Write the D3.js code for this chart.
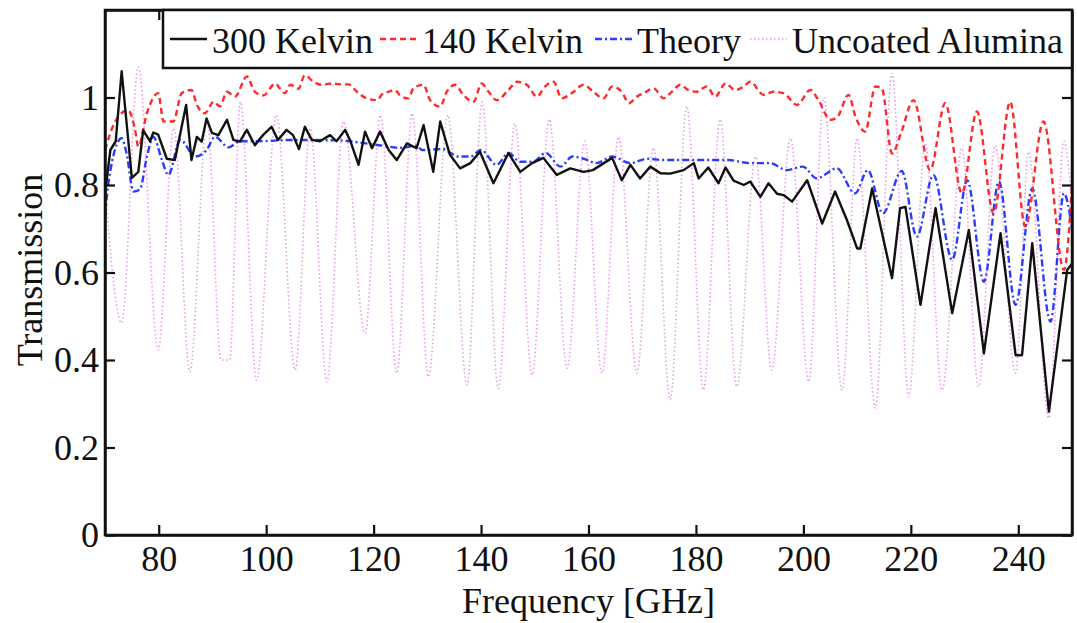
<!DOCTYPE html>
<html>
<head>
<meta charset="utf-8">
<script src="https://cdn.jsdelivr.net/npm/d3@7"></script>
<style>
  body { margin: 0; background: #fff; }
  text { font-family: "Liberation Serif", "Times New Roman", serif; fill: #111; }
</style>
</head>
<body>
<script>
// [frequency GHz, transmission]
var kelvin300 = [[70,0.78],[71,0.88],[72,0.90],[73.1,1.06],[75.0,0.816],[76.2,0.83],[77.1,0.925],[78.4,0.90],[79.0,0.92],[79.9,0.915],
  [81.5,0.86],[83.0,0.857],[85.1,0.983],[86.1,0.857],[87.1,0.91],[88.0,0.899],[88.9,0.952],[89.9,0.919],[91.1,0.914],[92.7,0.949],
  [93.9,0.903],[95.1,0.899],[96.4,0.926],[97.9,0.891],[99.4,0.914],[101.0,0.933],[102.2,0.903],[103.8,0.926],[105.0,0.914],[106.1,0.882],
  [107.2,0.933],[108.5,0.903],[110.0,0.90],[111.9,0.914],[113.1,0.90],[114.7,0.926],[115.6,0.903],[117.2,0.846],[118.4,0.922],[119.7,0.884],
  [121.2,0.922],[122.8,0.88],[124.3,0.857],[126.2,0.895],[128.0,0.884],[129.3,0.937],[131.1,0.83],[132.4,0.945],[134.2,0.869],[136.1,0.838],
  [138.0,0.85],[139.8,0.876],[142.3,0.804],[145.1,0.873],[147.3,0.83],[149.5,0.85],[151.6,0.862],[154.1,0.823],[156.6,0.838],[159.1,0.83],
  [160.8,0.834],[164.4,0.862],[166.2,0.811],[167.8,0.846],[169.6,0.815],[171.5,0.842],[173.4,0.827],[175.2,0.826],[177.7,0.834],[179.6,0.85],
  [180.5,0.815],[182.3,0.84],[184.2,0.804],[185.5,0.84],[187.0,0.81],[188.9,0.80],[190.1,0.808],[192.0,0.773],[193.5,0.804],[195.1,0.78],
  [196.3,0.777],[197.9,0.762],[200.7,0.811],[203.5,0.712],[205.9,0.785],[208.1,0.72],[210.0,0.655],[210.6,0.655],[212.8,0.792],[216.5,0.587],
  [218.0,0.747],[219.0,0.75],[221.8,0.526],[224.6,0.747],[227.7,0.507],[230.8,0.697],[233.6,0.415],[236.7,0.69],[239.5,0.411],[240.7,0.411],
  [242.6,0.667],[245.7,0.282],[247.5,0.453],[249.1,0.606],[250,0.62]];

var kelvin140 = [[70,0.88],[71.9,0.945],[74.3,0.971],[75.6,0.926],[76.2,0.888],[77.8,0.964],[79.9,1.01],[80.9,0.945],[82.7,0.945],[84.3,1.01],
  [86.1,1.017],[87.1,0.983],[88.6,0.964],[90.2,0.99],[91.4,0.98],[92.7,1.013],[94.2,1.002],[96.4,1.048],[97.9,1.013],[99.5,1.005],
  [101.7,1.032],[102.6,1.02],[103.5,1.01],[104.5,1.029],[106.0,1.02],[107.2,1.051],[108.8,1.036],[110.4,1.029],[112.2,1.032],[113.8,1.03],
  [115.3,1.03],[116.9,1.013],[118.7,0.998],[120.6,0.994],[121.8,1.01],[122.7,1.013],[124.0,1.017],[124.9,1.005],[126.5,0.998],[127.4,1.021],
  [129.3,1.029],[130.5,0.994],[132.4,0.979],[133.6,1.013],[135.2,1.029],[136.7,1.006],[138.6,0.99],[140.1,1.032],[141.4,1.013],[142.9,0.994],
  [145.1,1.017],[146.7,1.036],[148.5,1.029],[150.4,1.002],[151.9,1.025],[153.5,1.036],[155.0,0.998],[156.9,1.01],[159.1,1.029],[160.9,1.013],
  [162.8,0.998],[164.4,1.025],[166.2,1.013],[167.5,0.987],[169.0,1.002],[170.3,1.01],[172.1,1.021],[174.0,0.998],[175.5,1.013],[177.1,1.029],
  [178.6,1.017],[180.1,1.013],[182.0,1.025],[183.6,1.002],[185.5,1.032],[187.3,1.017],[188.9,1.025],[190.1,1.036],[192.6,1.006],[194.4,1.013],
  [196.3,1.01],[198.8,0.983],[201.3,1.017],[202.8,0.994],[205.0,0.949],[206.3,0.955],[208.4,1.006],[209.7,0.956],[211.5,0.922],[213.4,1.025],
  [214.6,1.021],[216.5,0.872],[218.2,0.92],[220.5,0.994],[223.6,0.834],[226.4,0.987],[229.5,0.781],[232.3,0.968],[235.4,0.735],[238.5,0.99],
  [241.3,0.705],[244.7,0.945],[248.5,0.606],[250,0.80]];

var theory = [[70,0.73],[70.7,0.81],[73.1,0.907],[74.0,0.873],[75.3,0.785],[76.5,0.79],[77.8,0.865],[79.0,0.91],[80.6,0.857],[81.8,0.823],
  [84.0,0.903],[86.8,0.865],[88.9,0.88],[90.5,0.91],[93.0,0.886],[95.1,0.90],[98,0.90],[105,0.903],[113,0.902],[121,0.891],
  [125,0.885],[128,0.89],[129,0.88],[132.8,0.882],[135.8,0.865],[138,0.865],[140,0.88],[142.9,0.846],[145.1,0.873],[147.3,0.853],
  [149.7,0.853],[152,0.873],[154.8,0.842],[157,0.865],[159.1,0.86],[161.5,0.85],[164.4,0.865],[167.8,0.85],[170.9,0.86],[174,0.857],
  [180,0.857],[186,0.857],[190.1,0.85],[193.8,0.85],[196.9,0.834],[199.9,0.842],[202.5,0.815],[206.2,0.838],[209.6,0.781],[212,0.834],
  [214.8,0.735],[218.3,0.832],[221.1,0.682],[224.2,0.823],[227.7,0.629],[230.5,0.811],[233.6,0.579],[236.4,0.808],[239.5,0.526],[242.6,0.792],
  [246,0.488],[248.5,0.781],[250,0.70]];

var alumina = [[70,0.80],[73.1,0.485],[76.2,1.07],[79.9,0.423],[82.8,0.93],[85.8,0.373],[89.0,0.95],[91.6,0.40],[93.2,0.40],[95.2,0.99],
  [98.2,0.354],[101.9,0.96],[105.4,0.377],[108.2,0.93],[111.3,0.35],[114.4,0.945],[118.4,0.461],[121.3,0.96],[124.3,0.37],[127.2,0.964],
  [130.2,0.362],[133.8,0.96],[137.4,0.343],[140.2,0.99],[143.2,0.335],[146.3,0.94],[149.5,0.366],[152.7,0.95],[156.0,0.381],[159.3,0.90],
  [162.5,0.37],[165.6,0.91],[169.0,0.37],[172.1,0.885],[175.2,0.309],[178.3,0.98],[181.4,0.331],[184.5,0.95],[187.6,0.339],[191.1,0.865],
  [194.1,0.377],[197.6,0.907],[201.0,0.35],[203.8,1.0],[207.2,0.331],[210.0,0.907],[213.4,0.29],[216.5,1.055],[219.6,0.316],[222.7,0.895],
  [225.8,0.331],[229.5,0.884],[232.6,0.339],[235.7,0.89],[239.5,0.37],[241.9,0.876],[245.7,0.267],[248.5,0.90],[250,0.75]];

var xTicks = [80, 100, 120, 140, 160, 180, 200, 220, 240];
var yTicks = [0, 0.2, 0.4, 0.6, 0.8, 1];
var seriesNames = ["300 Kelvin", "140 Kelvin", "Theory", "Uncoated Alumina"];

var margin = {top: 10, right: 5, bottom: 88, left: 105},
    width = 1077 - margin.left - margin.right,
    height = 623 - margin.top - margin.bottom;

var x = d3.scaleLinear().domain([70, 250]).range([0, width]);
var y = d3.scaleLinear().domain([0, 1.2]).range([height, 0]);

var styles = [
  {color: "#111111", width: 2.4, dash: null, curve: d3.curveLinear},
  {color: "#ff2a2a", width: 2.4, dash: "6,4", curve: d3.curveMonotoneX},
  {color: "#2a3cff", width: 2.4, dash: "7,3,2,3", curve: d3.curveMonotoneX},
  {color: "#e99ceb", width: 1.6, dash: "1.5,2.5", curve: d3.curveMonotoneX}
];
var allSeries = [kelvin300, kelvin140, theory, alumina];

var svg = d3.select("body").append("svg")
    .attr("width", 1077)
    .attr("height", 623)
  .append("g")
    .attr("transform", "translate(" + margin.left + "," + margin.top + ")");

svg.append("clipPath").attr("id", "clip")
  .append("rect").attr("width", width).attr("height", height);

// draw back to front: alumina first
var order = [3, 2, 1, 0];
order.forEach(function(i) {
  var line = d3.line()
      .x(function(d) { return x(d[0]); })
      .y(function(d) { return y(d[1]); })
      .curve(styles[i].curve);
  svg.append("path")
      .datum(allSeries[i])
      .attr("clip-path", "url(#clip)")
      .attr("fill", "none")
      .attr("stroke", styles[i].color)
      .attr("stroke-width", styles[i].width)
      .attr("stroke-dasharray", styles[i].dash)
      .attr("stroke-linejoin", "round")
      .attr("d", line);
});

var fmt = d3.format("~g");

svg.append("g")
    .attr("transform", "translate(0," + height + ")")
    .call(d3.axisBottom(x).tickValues(xTicks).tickSizeInner(-10).tickSizeOuter(0).tickPadding(10));
svg.append("g")
    .call(d3.axisLeft(y).tickValues(yTicks).tickFormat(fmt).tickSizeInner(-10).tickSizeOuter(0).tickPadding(6));
svg.append("g")
    .call(d3.axisTop(x).tickValues(xTicks).tickSizeInner(-10).tickSizeOuter(0).tickFormat(""));
svg.append("g")
    .attr("transform", "translate(" + width + ",0)")
    .call(d3.axisRight(y).tickValues(yTicks).tickSizeInner(-10).tickSizeOuter(0).tickFormat(""));

svg.selectAll(".domain").attr("stroke", "#111").attr("stroke-width", 2.5);
svg.selectAll(".tick line").attr("stroke", "#111").attr("stroke-width", 2.2);
svg.selectAll(".tick text")
    .attr("font-family", "Liberation Serif, Times New Roman, serif")
    .attr("font-size", "36px")
    .attr("fill", "#111");

// frame box
svg.append("rect")
    .attr("width", width).attr("height", height)
    .attr("fill", "none").attr("stroke", "#111").attr("stroke-width", 2.5);

svg.append("text")
    .attr("x", x(160))
    .attr("y", height + 78)
    .attr("text-anchor", "middle")
    .attr("font-size", "36px")
    .text("Frequency [GHz]");

svg.append("text")
    .attr("transform", "translate(" + (42 - margin.left) + "," + (270 - margin.top) + ") rotate(-90)")
    .attr("text-anchor", "middle")
    .attr("font-size", "36px")
    .text("Transmission");

// legend
var legend = svg.append("g").attr("transform", "translate(" + (163 - margin.left) + ",0)");
legend.append("rect")
    .attr("width", width - (163 - margin.left))
    .attr("height", 58)
    .attr("fill", "#fff")
    .attr("stroke", "#111")
    .attr("stroke-width", 2.5);

var legendX = [7, 217, 432, 587];
seriesNames.forEach(function(name, i) {
  var g = legend.append("g").attr("transform", "translate(" + legendX[i] + ",0)");
  g.append("line")
      .attr("x1", 0).attr("x2", 37)
      .attr("y1", 29).attr("y2", 29)
      .attr("stroke", styles[i].color)
      .attr("stroke-width", styles[i].width)
      .attr("stroke-dasharray", styles[i].dash);
  g.append("text")
      .attr("x", 42)
      .attr("y", 43)
      .attr("font-size", "36px")
      .text(name);
});
</script>
</body>
</html>
